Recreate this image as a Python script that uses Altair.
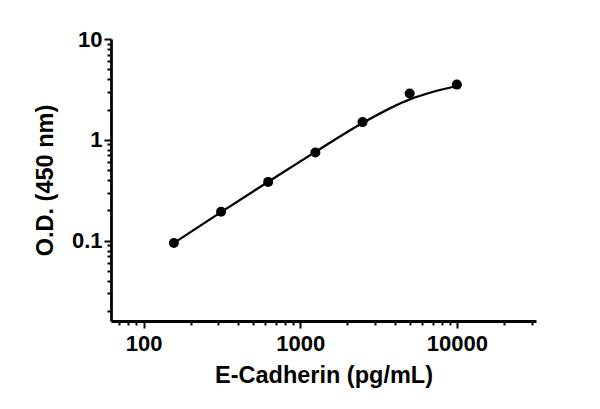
import altair as alt
import pandas as pd

# standard curve, 2-fold serial dilution
conc = [156.25, 312.5, 625, 1250, 2500, 5000, 10000]
od = [0.095, 0.194, 0.383, 0.748, 1.50, 2.88, 3.53]

# fitted curve
fit_conc = [156.25, 312.5, 625, 1250, 2500, 5000, 7071, 10000]
fit_od = [0.095, 0.192, 0.385, 0.76, 1.47, 2.52, 3.0, 3.42]

x_ticks = [100, 1000, 10000]
y_ticks = [0.1, 1, 10]

FONT = "Liberation Sans"
MAJOR = "abs(log(datum.value) / LN10 - round(log(datum.value) / LN10)) < 0.001"

df_pts = pd.DataFrame({"conc": conc, "od": od})
df_fit = pd.DataFrame({"conc": fit_conc, "od": fit_od})


def log_axis(title, label_pad, title_pad):
    return alt.Axis(
        title=title,
        grid=False,
        tickCount=30,
        labelExpr=f"({MAJOR}) ? format(datum.value, '~g') : ''",
        labelOverlap=False,
        labelFlush=False,
        labelFont=FONT,
        labelFontSize=22,
        labelFontWeight="bold",
        labelColor="black",
        labelPadding=label_pad,
        titleFont=FONT,
        titleFontSize=23.5,
        titleFontWeight="bold",
        titleColor="black",
        titlePadding=title_pad,
        domainColor="black",
        domainWidth=2.8,
        tickColor="black",
        tickWidth=2,
        tickSize={"condition": {"test": MAJOR, "value": 7}, "value": 4},
    )


x = alt.X(
    "conc:Q",
    scale=alt.Scale(type="log", domain=[62, 32000], nice=False),
    axis=log_axis("E-Cadherin (pg/mL)", 5, 9),
)
y = alt.Y(
    "od:Q",
    scale=alt.Scale(type="log", domain=[0.016, 10], nice=False),
    axis=log_axis("O.D. (450 nm)", 2, 14),
)

curve = (
    alt.Chart(df_fit)
    .mark_line(color="black", strokeWidth=2.3, interpolate="monotone")
    .encode(x=x, y=y)
)
points = (
    alt.Chart(df_pts)
    .mark_circle(color="black", size=100, opacity=1)
    .encode(x=x, y=y)
)

chart = (
    (curve + points)
    .properties(
        width=425,
        height=282,
        autosize=alt.AutoSizeParams(type="none"),
        padding={"left": 103, "top": 31, "right": 50, "bottom": 70},
        background="white",
    )
    .configure_view(stroke=None)
)

chart.save("out.html", embed_options={"renderer": "svg", "actions": False})
